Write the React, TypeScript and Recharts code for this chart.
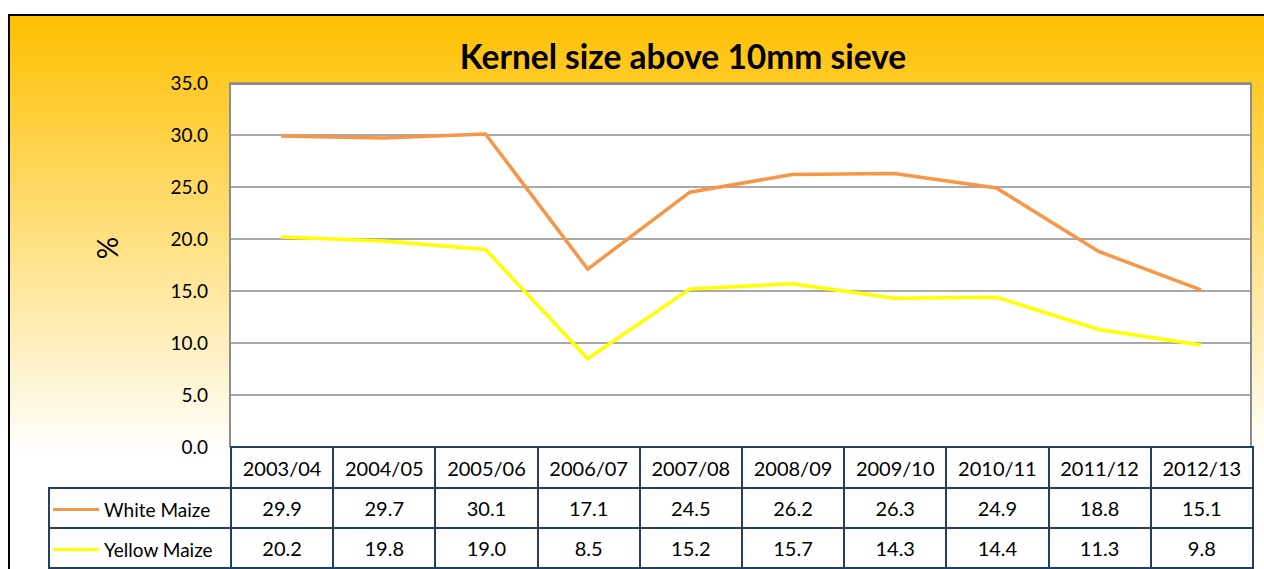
import React from 'react';
import { LineChart, Line, XAxis, YAxis, CartesianGrid } from 'recharts';

const seasons = ['2003/04', '2004/05', '2005/06', '2006/07', '2007/08', '2008/09', '2009/10', '2010/11', '2011/12', '2012/13'];
const whiteMaize = [29.9, 29.7, 30.1, 17.1, 24.5, 26.2, 26.3, 24.9, 18.8, 15.1];
const yellowMaize = [20.2, 19.8, 19.0, 8.5, 15.2, 15.7, 14.3, 14.4, 11.3, 9.8];
const yTicks = [0, 5, 10, 15, 20, 25, 30, 35];

const series = [
  { name: 'White Maize', key: 'white', values: whiteMaize, color: '#F79646' },
  { name: 'Yellow Maize', key: 'yellow', values: yellowMaize, color: '#FFFF00' },
];

const data = seasons.map((s, i) => ({ season: s, white: whiteMaize[i], yellow: yellowMaize[i] }));

const FONT = 'Lato, "Noto Sans", sans-serif';
const NAVY = '#243F60';
const PLOT_L = 230;
const PLOT_R = 1252;
const PLOT_T = 83;
const PLOT_B = 447;
const COL_W = (PLOT_R - PLOT_L) / seasons.length;

const cell: React.CSSProperties = {
  border: `2px solid ${NAVY}`,
  textAlign: 'center',
  fontSize: 20,
  color: '#000',
  padding: 0,
  background: '#fff',
};

export default function App() {
  return (
    <div style={{ position: 'fixed', left: 0, top: 0, width: 1264, height: 569, background: '#fff', overflow: 'hidden', fontFamily: FONT }}>
      {/* slide frame */}
      <div
        style={{
          position: 'absolute',
          left: 8,
          top: 14,
          width: 1300,
          height: 600,
          borderLeft: '2px solid #000',
          borderTop: '2px solid #000',
          background: 'linear-gradient(to bottom, #FFC000 0px, #FFFFFF 440px)',
        }}
      />
      {/* plot box */}
      <div
        style={{
          position: 'absolute',
          left: PLOT_L,
          top: PLOT_T,
          width: PLOT_R - PLOT_L,
          height: PLOT_B - PLOT_T,
          background: '#fff',
          borderTop: '2px solid #8C8C8C',
          borderRight: '2px solid #8C8C8C',
          boxSizing: 'border-box',
        }}
      />
      <div
        style={{
          position: 'absolute',
          left: 0,
          width: 1366,
          top: 36,
          textAlign: 'center',
          fontWeight: 700,
          fontSize: 33.5,
          color: '#000',
        }}
      >
        Kernel size above 10mm sieve
      </div>
      <div
        style={{
          position: 'absolute',
          left: 107,
          top: 248,
          fontSize: 28,
          color: '#000',
          transform: 'translate(-50%, -50%) rotate(-90deg)',
          lineHeight: 1,
        }}
      >
        %
      </div>
      <div style={{ position: 'absolute', left: 0, top: 0 }}>
        <LineChart width={1264} height={569} data={data} margin={{ top: PLOT_T, right: 1264 - PLOT_R, bottom: 569 - PLOT_B, left: 0 }}>
          <CartesianGrid vertical={false} stroke="#8C8C8C" strokeWidth={1.5} horizontalValues={yTicks} />
          <XAxis dataKey="season" hide padding={{ left: COL_W / 2, right: COL_W / 2 }} />
          <YAxis
            width={PLOT_L}
            domain={[0, 35]}
            ticks={yTicks}
            tickFormatter={(v: number) => v.toFixed(1)}
            tickSize={0}
            tickMargin={22}
            axisLine={{ stroke: '#8C8C8C', strokeWidth: 2 }}
            tick={{ fill: '#000', fontSize: 19, fontFamily: FONT }}
          />
          {series.map((s) => (
            <Line key={s.key} dataKey={s.key} name={s.name} stroke={s.color} strokeWidth={3.5} dot={false} isAnimationActive={false} />
          ))}
        </LineChart>
      </div>
      {/* data table */}
      <table
        style={{
          position: 'absolute',
          left: 48,
          top: PLOT_B - 1,
          borderCollapse: 'collapse',
          tableLayout: 'fixed',
          width: PLOT_R - 48 + 1,
          fontFamily: FONT,
        }}
      >
        <colgroup>
          <col style={{ width: PLOT_L - 48 }} />
          {seasons.map((s) => (
            <col key={s} style={{ width: COL_W }} />
          ))}
        </colgroup>
        <tbody>
          <tr style={{ height: 41 }}>
            <td style={{ border: 'none', background: 'transparent' }} />
            {seasons.map((s) => (
              <td key={s} style={cell}>
                {s}
              </td>
            ))}
          </tr>
          {series.map((s) => (
            <tr key={s.key} style={{ height: 40 }}>
              <td style={{ ...cell, textAlign: 'left', whiteSpace: 'nowrap', fontSize: 19 }}>
                <span style={{ display: 'inline-block', width: 46, height: 3, background: s.color, verticalAlign: 'middle', margin: '0 5px 0 3px' }} />
                <span style={{ verticalAlign: 'middle' }}>{s.name}</span>
              </td>
              {s.values.map((v, i) => (
                <td key={i} style={cell}>
                  {v.toFixed(1)}
                </td>
              ))}
            </tr>
          ))}
        </tbody>
      </table>
    </div>
  );
}
